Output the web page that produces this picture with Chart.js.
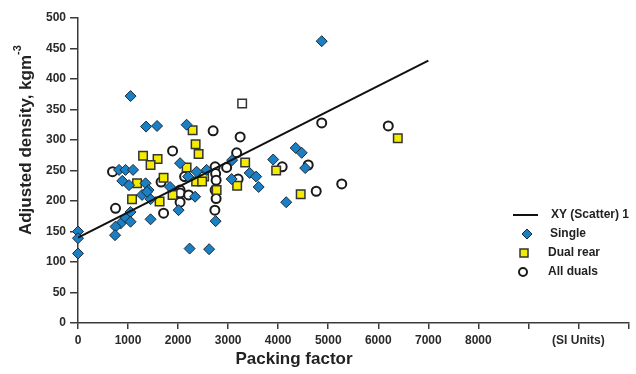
<!DOCTYPE html>
<html>
<head>
<meta charset="utf-8">
<script src="https://cdn.jsdelivr.net/npm/chart.js@4"></script>
<style>
  html, body { margin: 0; padding: 0; background: #fff; }
  #wrap { position: relative; width: 636px; height: 374px; }
</style>
</head>
<body>
<div id="wrap"><canvas id="chart"></canvas></div>
<script>
// ── data ──────────────────────────────────────────────────────────────────
const singleX = [0, 0, 0, 1050, 1360, 1580, 2170, 2040, 3080, 3430, 3560, 3610,
  820, 950, 1100, 885, 1020, 1350, 1410, 2370, 2570, 3070, 1280, 1450, 1380,
  2340, 2750, 2010, 1450, 1050, 950, 1050, 850, 750, 740, 2230, 2620, 1840,
  4160, 4870, 4350, 4470, 3900, 4540, 2200];
const singleY = [150, 139, 114, 372, 322, 323, 325, 262, 267, 246, 240, 223,
  251, 251, 251, 233, 226, 229, 218, 248, 251, 236, 210, 203, 215,
  207, 167, 185, 170, 182, 172, 166, 163, 158, 144, 122, 121, 223,
  198, 462, 287, 279, 268, 254, 240];

const dualRearX = [2290, 2350, 2410, 1300, 1590, 1450, 2170, 3340, 1180, 1710,
  2360, 2520, 2480, 2770, 3180, 1890, 1080, 1630, 4450, 6390, 3960, 3280];
const dualRearY = [316, 293, 277, 274, 269, 259, 255, 263, 229, 238,
  232, 240, 232, 218, 225, 210, 203, 199, 211, 303, 250, 360];
// the one hollow square in the figure
const dualRearOpen = [21];

const allDualsX = [2700, 3240, 1890, 3170, 2740, 2970, 690, 1660, 2750, 2760,
  2740, 2760, 2735, 2130, 2040, 3200, 2040, 2210, 2040, 750, 1710, 4760,
  5270, 4870, 6200, 4080, 4600];
const allDualsY = [315, 305, 282, 279, 256, 255, 248, 231, 245, 234,
  218, 204, 185, 240, 218, 236, 213, 210, 198, 188, 180, 216,
  228, 328, 323, 256, 259];

const fitX = [0, 7000];
const fitY = [140, 430];

const xTicks = [0, 1000, 2000, 3000, 4000, 5000, 6000, 7000, 8000, 9000, 10000, 11000];
const xTickLabels = ["0", "1000", "2000", "3000", "4000", "5000", "6000", "7000", "8000", "", "(SI Units)", ""];

// ── styles ────────────────────────────────────────────────────────────────
const FONT = "'Liberation Sans', Arial, sans-serif";
const AXIS = "#3a3a3a";
const BLUE = "#1a7fc3";
const YELLOW = "#f4ec00";

const pts = (xs, ys) => xs.map((x, i) => ({ x, y: ys[i] }));

const legendPlugin = {
  id: "sideLegend",
  afterDraw(chart) {
    const ctx = chart.ctx;
    ctx.save();
    ctx.fillStyle = "#222";
    ctx.font = "bold 12px " + FONT;
    ctx.textBaseline = "middle";
    // line
    ctx.strokeStyle = "#111";
    ctx.lineWidth = 2;
    ctx.beginPath(); ctx.moveTo(513, 215); ctx.lineTo(538, 215); ctx.stroke();
    ctx.fillText("XY (Scatter) 1", 551, 215);
    // diamond
    ctx.beginPath();
    ctx.moveTo(527, 229); ctx.lineTo(532, 234); ctx.lineTo(527, 239); ctx.lineTo(522, 234); ctx.closePath();
    ctx.fillStyle = BLUE; ctx.fill();
    ctx.lineWidth = 1; ctx.strokeStyle = "#1d2a3a"; ctx.stroke();
    ctx.fillStyle = "#222";
    ctx.fillText("Single", 550, 234);
    // square
    ctx.fillStyle = YELLOW;
    ctx.fillRect(520, 249, 8, 8);
    ctx.lineWidth = 1.5; ctx.strokeStyle = "#333"; ctx.strokeRect(520, 249, 8, 8);
    ctx.fillStyle = "#222";
    ctx.fillText("Dual rear", 548, 253);
    // circle
    ctx.beginPath(); ctx.arc(523, 272, 4, 0, Math.PI * 2);
    ctx.fillStyle = "#fff"; ctx.fill();
    ctx.lineWidth = 2; ctx.strokeStyle = "#1a1a1a"; ctx.stroke();
    ctx.fillStyle = "#222";
    ctx.fillText("All duals", 548, 272);

    // axis titles
    ctx.font = "bold 17px " + FONT;
    ctx.textAlign = "center";
    ctx.fillText("Packing factor", 294, 359);

    ctx.translate(26, 140);
    ctx.rotate(-Math.PI / 2);
    const main = "Adjusted density, kgm";
    const w = ctx.measureText(main).width;
    ctx.textAlign = "left";
    ctx.fillText(main, -w / 2 - 5, 0);
    ctx.font = "bold 11px " + FONT;
    ctx.fillText("-3", w / 2 - 5, -8);
    ctx.restore();
  },
};

new Chart(document.getElementById("chart"), {
  type: "scatter",
  data: {
    datasets: [
      {
        label: "XY (Scatter) 1",
        data: pts(fitX, fitY),
        showLine: true,
        borderColor: "#111",
        borderWidth: 2,
        pointRadius: 0,
        order: 0,
      },
      {
        label: "All duals",
        data: pts(allDualsX, allDualsY),
        pointStyle: "circle",
        pointRadius: 4.5,
        backgroundColor: "#fff",
        borderColor: "#1a1a1a",
        borderWidth: 2,
        clip: false,
        order: 3,
      },
      {
        label: "Dual rear",
        data: pts(dualRearX, dualRearY),
        pointStyle: "rect",
        pointRadius: 6,
        backgroundColor: dualRearX.map((_, i) => dualRearOpen.includes(i) ? "#fff" : YELLOW),
        borderColor: "#333",
        borderWidth: 1.5,
        clip: false,
        order: 2,
      },
      {
        label: "Single",
        data: pts(singleX, singleY),
        pointStyle: "rectRot",
        pointRadius: 5.5,
        backgroundColor: BLUE,
        borderColor: "#1d2a3a",
        borderWidth: 1,
        clip: false,
        order: 1,
      },
    ],
  },
  options: {
    responsive: true,
    maintainAspectRatio: false,
    animation: false,
    layout: { padding: { left: 0, top: 18, right: 4, bottom: 0 } },
    plugins: {
      legend: { display: false },
      tooltip: { enabled: false },
    },
    scales: {
      x: {
        type: "linear",
        min: 0,
        max: 11000,
        afterBuildTicks: (s) => { s.ticks = xTicks.map((v) => ({ value: v })); },
        afterFit: (s) => { s.height = 51; },
        border: { display: true, color: AXIS, width: 1.5 },
        grid: { drawOnChartArea: false, drawTicks: true, tickLength: 6, color: AXIS, lineWidth: 1.5 },
        ticks: {
          autoSkip: false,
          maxRotation: 0,
          padding: 4,
          color: "#2a2a2a",
          font: { family: FONT, size: 12, weight: "bold" },
          callback: (v) => xTickLabels[xTicks.indexOf(v)] ?? "",
        },
      },
      y: {
        type: "linear",
        min: 0,
        max: 500,
        afterFit: (s) => { s.width = 78; },
        border: { display: true, color: AXIS, width: 1.5 },
        grid: { drawOnChartArea: false, drawTicks: true, tickLength: 8, color: AXIS, lineWidth: 1.5 },
        ticks: {
          stepSize: 50,
          padding: 4,
          color: "#2a2a2a",
          font: { family: FONT, size: 12, weight: "bold" },
        },
      },
    },
  },
  plugins: [legendPlugin],
});
</script>
</body>
</html>
